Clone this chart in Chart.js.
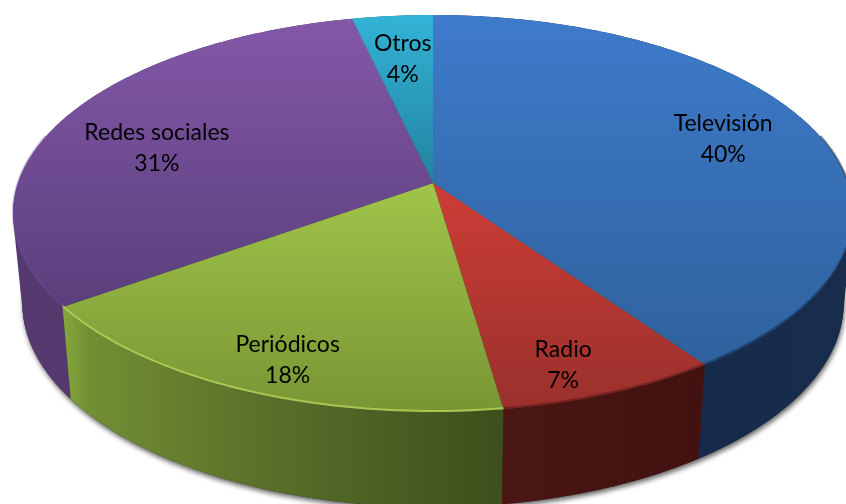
<!DOCTYPE html>
<html>
<head>
<meta charset="utf-8">
<title>Medios</title>
<script src="https://cdn.jsdelivr.net/npm/chart.js@4"></script>
<style>
  html, body { margin: 0; padding: 0; background: #fff; }
  canvas { display: block; }
</style>
</head>
<body>
<canvas id="pie-chart" width="846" height="504"></canvas>
<script>
const categories = ['Televisión', 'Radio', 'Periódicos', 'Redes sociales', 'Otros'];
// slice sizes as measured on the picture, the printed labels are rounded
const shares = [40.3, 7.4, 17.4, 31.3, 3.6];
const shareLabels = ['40%', '7%', '18%', '31%', '4%'];

// top face colours, far edge -> near edge
const faceTop = ['#3e7bcb', '#f5463e', '#bee65a', '#8458a9', '#32b4d6'];
const faceBottom = ['#2d5e96', '#99302c', '#789634', '#4b366b', '#0f3c55'];
// wall colours, left -> right
const wallStops = [
  [[0, '#13294a'], [1, '#182c4c']],
  [[0, '#4a1614'], [1, '#421210']],
  [[0, '#85a83c'], [0.06, '#728f34'], [0.32, '#627a2d'], [0.55, '#546a28'], [1, '#3d4f1b']],
  [[0, '#55396f'], [1, '#513569']],
  [[0, '#1a5f73'], [1, '#1a5f73']]
];
const rimColor = ['rgba(15,35,70,.5)', 'rgba(70,15,15,.4)', 'rgba(200,230,100,.6)', 'rgba(110,80,155,.35)', 'rgba(0,0,0,0)'];

// where the label sits inside its slice
const labelRadius = [0.764, 0.86, 0.856, 0.71, 0.717];
const labelTurn = [-0.9, 3, -2, -5.3, 0];

// perspective of the tilted disc
const cx = 433, cy = 183;
const spreadX = 415, spreadY = 193.8, tilt = 0.1537;
const wallDepth = 92, wallShrink = 0.978;

function project(angle, r) {
  const u = Math.cos(angle) * r;
  const v = Math.sin(angle) * r;
  const w = 1 - tilt * v;
  return { x: cx + spreadX * u / w, y: cy + spreadY * v / w };
}

function lower(p) {
  return { x: cx + (p.x - cx) * wallShrink, y: p.y + wallDepth + (p.y - 307) * 0.03 };
}

function arcPoints(start, end) {
  const pts = [];
  const n = Math.max(8, Math.ceil((end - start) * 60));
  for (let i = 0; i <= n; i++) {
    pts.push(project(start + (end - start) * i / n, 1));
  }
  return pts;
}

function tracePoints(ctx, pts) {
  pts.forEach((p, i) => i ? ctx.lineTo(p.x, p.y) : ctx.moveTo(p.x, p.y));
}

// same winding for every quad, otherwise the wall cancels itself where it folds
function traceQuad(ctx, q) {
  let area = 0;
  q.forEach((p, i) => {
    const n = q[(i + 1) % q.length];
    area += p.x * n.y - n.x * p.y;
  });
  tracePoints(ctx, area < 0 ? q.slice().reverse() : q);
  ctx.closePath();
}

const tiltedPie = {
  id: 'tiltedPie',
  afterDatasetsDraw(chart) {
    const ctx = chart.ctx;
    const arcs = chart.getDatasetMeta(0).data;
    ctx.save();

    // soft shadow under the whole body
    ctx.save();
    ctx.shadowColor = 'rgba(0,0,0,.6)';
    ctx.shadowBlur = 5;
    ctx.shadowOffsetX = 1;
    ctx.shadowOffsetY = 3;
    ctx.fillStyle = '#333';
    ctx.beginPath();
    tracePoints(ctx, arcPoints(-Math.PI / 2, Math.PI * 1.5).map(lower));
    ctx.closePath();
    ctx.fill();
    ctx.restore();

    // walls, back slices first
    [4, 3, 0, 2, 1].forEach(i => {
      const top = arcPoints(arcs[i].startAngle, arcs[i].endAngle);
      const xs = top.map(p => p.x);
      const g = ctx.createLinearGradient(Math.min(...xs), 0, Math.max(...xs), 0);
      wallStops[i].forEach(s => g.addColorStop(s[0], s[1]));
      ctx.fillStyle = g;
      ctx.beginPath();
      for (let k = 0; k < top.length - 1; k++) {
        traceQuad(ctx, [top[k], top[k + 1], lower(top[k + 1]), lower(top[k])]);
      }
      ctx.fill();
    });

    // top faces
    arcs.forEach((arc, i) => {
      const g = ctx.createLinearGradient(0, cy - 168, 0, cy + 229);
      g.addColorStop(0, faceTop[i]);
      g.addColorStop(1, faceBottom[i]);
      ctx.fillStyle = g;
      ctx.beginPath();
      ctx.moveTo(cx, cy);
      arcPoints(arc.startAngle, arc.endAngle).forEach(p => ctx.lineTo(p.x, p.y));
      ctx.closePath();
      ctx.fill();
    });

    // bevel along the near rim, stays inside each face
    arcs.forEach((arc, i) => {
      const s = Math.max(arc.startAngle, -0.25);
      const e = Math.min(arc.endAngle, Math.PI + 0.25);
      if (e <= s) return;
      ctx.strokeStyle = rimColor[i];
      ctx.lineWidth = 2;
      ctx.beginPath();
      tracePoints(ctx, arcPoints(s, e).map(p => ({ x: p.x, y: p.y - 1 })));
      ctx.stroke();
    });

    // labels
    ctx.fillStyle = '#000';
    ctx.font = '23px Lato, Carlito, sans-serif';
    ctx.textAlign = 'center';
    ctx.textBaseline = 'middle';
    arcs.forEach((arc, i) => {
      const mid = (arc.startAngle + arc.endAngle) / 2 + labelTurn[i] * Math.PI / 180;
      const p = project(mid, labelRadius[i]);
      ctx.fillText(categories[i], p.x, p.y - 14.5);
      ctx.fillText(shareLabels[i], p.x, p.y + 16.5);
    });
    ctx.restore();
  }
};

new Chart(document.getElementById('pie-chart').getContext('2d'), {
  type: 'pie',
  data: {
    labels: categories,
    datasets: [{ data: shares, backgroundColor: 'transparent', borderWidth: 0 }]
  },
  options: {
    responsive: false,
    animation: false,
    plugins: { legend: { display: false }, tooltip: { enabled: false } }
  },
  plugins: [tiltedPie]
});
</script>
</body>
</html>
